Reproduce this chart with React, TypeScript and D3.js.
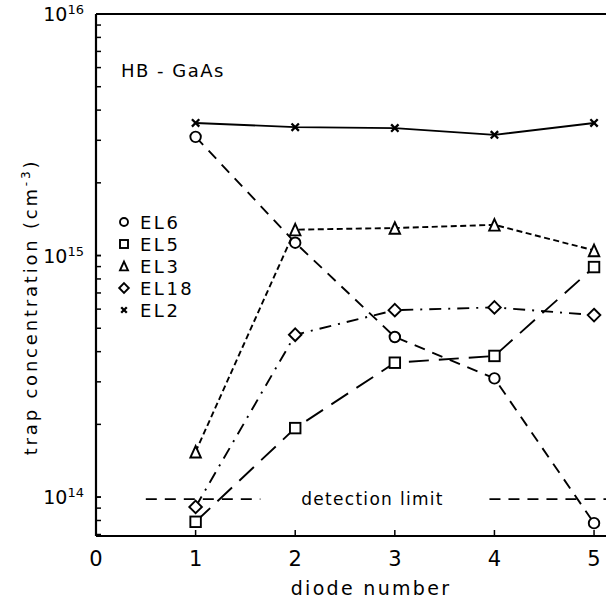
import * as d3 from 'd3'

const diodes = [1, 2, 3, 4, 5]
const el6 = [3.1e15, 1.13e15, 4.6e14, 3.1e14, 7.8e13]
const el5 = [7.9e13, 1.93e14, 3.6e14, 3.84e14, 8.96e14]
const el3 = [1.54e14, 1.28e15, 1.3e15, 1.34e15, 1.05e15]
const el18 = [9.1e13, 4.7e14, 5.94e14, 6.1e14, 5.67e14]
const el2 = [3.54e15, 3.4e15, 3.37e15, 3.16e15, 3.54e15]
const detectionLimit = 9.8e13
const xTicks = [0, 1, 2, 3, 4, 5]
const yMajor = [14, 15, 16]

type Sym = 'circle' | 'square' | 'triangle' | 'diamond' | 'cross'
const series: { name: string; values: number[]; sym: Sym; dash: string }[] = [
  { name: 'EL6', values: el6, sym: 'circle', dash: '11,8' },
  { name: 'EL5', values: el5, sym: 'square', dash: '20,10' },
  { name: 'EL3', values: el3, sym: 'triangle', dash: '6,3.5' },
  { name: 'EL18', values: el18, sym: 'diamond', dash: '12,7,2,7' },
  { name: 'EL2', values: el2, sym: 'cross', dash: '' },
]

const W = 606
const H = 603
const m = { left: 96, top: 14, right: 0, bottom: 67 }
const font = "'DejaVu Sans', 'Liberation Sans', sans-serif"

function Marker({ sym, x, y, s }: { sym: Sym; x: number; y: number; s: number }) {
  const sw = 1.9
  if (sym === 'circle') return <circle cx={x} cy={y} r={s * 0.5} fill="#fff" stroke="#000" strokeWidth={sw} />
  if (sym === 'square')
    return <rect x={x - s / 2} y={y - s / 2} width={s} height={s} fill="#fff" stroke="#000" strokeWidth={sw} />
  if (sym === 'triangle') {
    const h = s * 1.1
    return (
      <path
        d={`M${x},${y - h / 2}L${x + s / 2},${y + h / 2}L${x - s / 2},${y + h / 2}Z`}
        fill="#fff"
        stroke="#000"
        strokeWidth={sw}
      />
    )
  }
  if (sym === 'diamond') {
    const r = s * 0.6
    return (
      <path
        d={`M${x},${y - r}L${x + r},${y}L${x},${y + r}L${x - r},${y}Z`}
        fill="#fff"
        stroke="#000"
        strokeWidth={sw}
      />
    )
  }
  const r = s * 0.35
  return (
    <path d={`M${x - r},${y - r}L${x + r},${y + r}M${x + r},${y - r}L${x - r},${y + r}`} stroke="#000" strokeWidth={2.3} />
  )
}

export default function App() {
  const x = d3.scaleLinear().domain([0, 5.1]).range([m.left, W - m.right - 2])
  const y = d3.scaleLog().domain([6.9e13, 1e16]).range([H - m.bottom, m.top])
  const line = d3
    .line<number>()
    .x((_, i) => x(diodes[i]))
    .y(d => y(d))

  const minor: number[] = []
  for (let e = 13; e <= 15; e++) for (let k = 1; k <= 10; k++) {
    const v = k * Math.pow(10, e)
    if (v >= 6.9e13 && v <= 1e16) minor.push(v)
  }

  const yDet = y(detectionLimit)

  return (
    <svg width={W} height={H} style={{ position: 'absolute', left: 0, top: 0, background: '#fff' }} fontFamily={font}>
      {/* axes */}
      <line x1={m.left} x2={m.left} y1={m.top} y2={H - m.bottom} stroke="#000" strokeWidth={2.2} />
      <line x1={m.left} x2={W} y1={H - m.bottom} y2={H - m.bottom} stroke="#000" strokeWidth={1.9} />
      <line x1={m.left} x2={W} y1={m.top} y2={m.top} stroke="#000" strokeWidth={1.9} />
      {minor.map(v => (
        <line key={v} x1={m.left} x2={m.left + 5} y1={y(v)} y2={y(v)} stroke="#000" strokeWidth={1.5} />
      ))}
      {xTicks.map(t => (
        <g key={t}>
          <line x1={x(t)} x2={x(t)} y1={H - m.bottom} y2={H - m.bottom - 6} stroke="#000" strokeWidth={1.5} />
          <text x={x(t)} y={H - m.bottom + 30} fontSize={21} textAnchor="middle">
            {t}
          </text>
        </g>
      ))}
      {yMajor.map(e => (
        <text key={e} x={m.left - 12} y={y(Math.pow(10, e)) + 7} fontSize={19} textAnchor="end">
          10<tspan dy={-7} fontSize={13}>{e}</tspan>
        </text>
      ))}
      <text x={371} y={595} fontSize={19} textAnchor="middle" letterSpacing={2.3}>
        diode number
      </text>
      <text
        transform={`translate(37,${307}) rotate(-90)`}
        fontSize={18}
        textAnchor="middle"
        letterSpacing={2.8}
      >
        trap concentration (cm<tspan dy={-7} fontSize={12}>-3</tspan>
        <tspan dy={7}>)</tspan>
      </text>
      <text x={121} y={77} fontSize={18} letterSpacing={1.5}>
        HB - GaAs
      </text>

      {/* detection limit */}
      <line x1={x(0.5)} x2={x(1.65)} y1={yDet} y2={yDet} stroke="#000" strokeWidth={1.7} strokeDasharray="11,8" />
      <line x1={x(3.95)} x2={W} y1={yDet} y2={yDet} stroke="#000" strokeWidth={1.7} strokeDasharray="11,8" />
      <text x={x(2.06)} y={yDet + 6} fontSize={17} letterSpacing={1.3}>
        detection limit
      </text>

      {/* series */}
      {series.map(s => (
        <path
          key={s.name}
          d={line(s.values) ?? ''}
          fill="none"
          stroke="#000"
          strokeWidth={1.9}
          strokeDasharray={s.dash || undefined}
        />
      ))}
      {series.map(s =>
        s.values.map((v, i) => (
          <Marker key={s.name + i} sym={s.sym} x={x(diodes[i])} y={y(v)} s={10.5} />
        ))
      )}

      {/* legend */}
      {series.map((s, i) => (
        <g key={s.name}>
          <Marker sym={s.sym} x={124} y={222 + i * 22} s={8} />
          <text x={140} y={222 + i * 22 + 7} fontSize={18} letterSpacing={2.5}>
            {s.name}
          </text>
        </g>
      ))}
    </svg>
  )
}
